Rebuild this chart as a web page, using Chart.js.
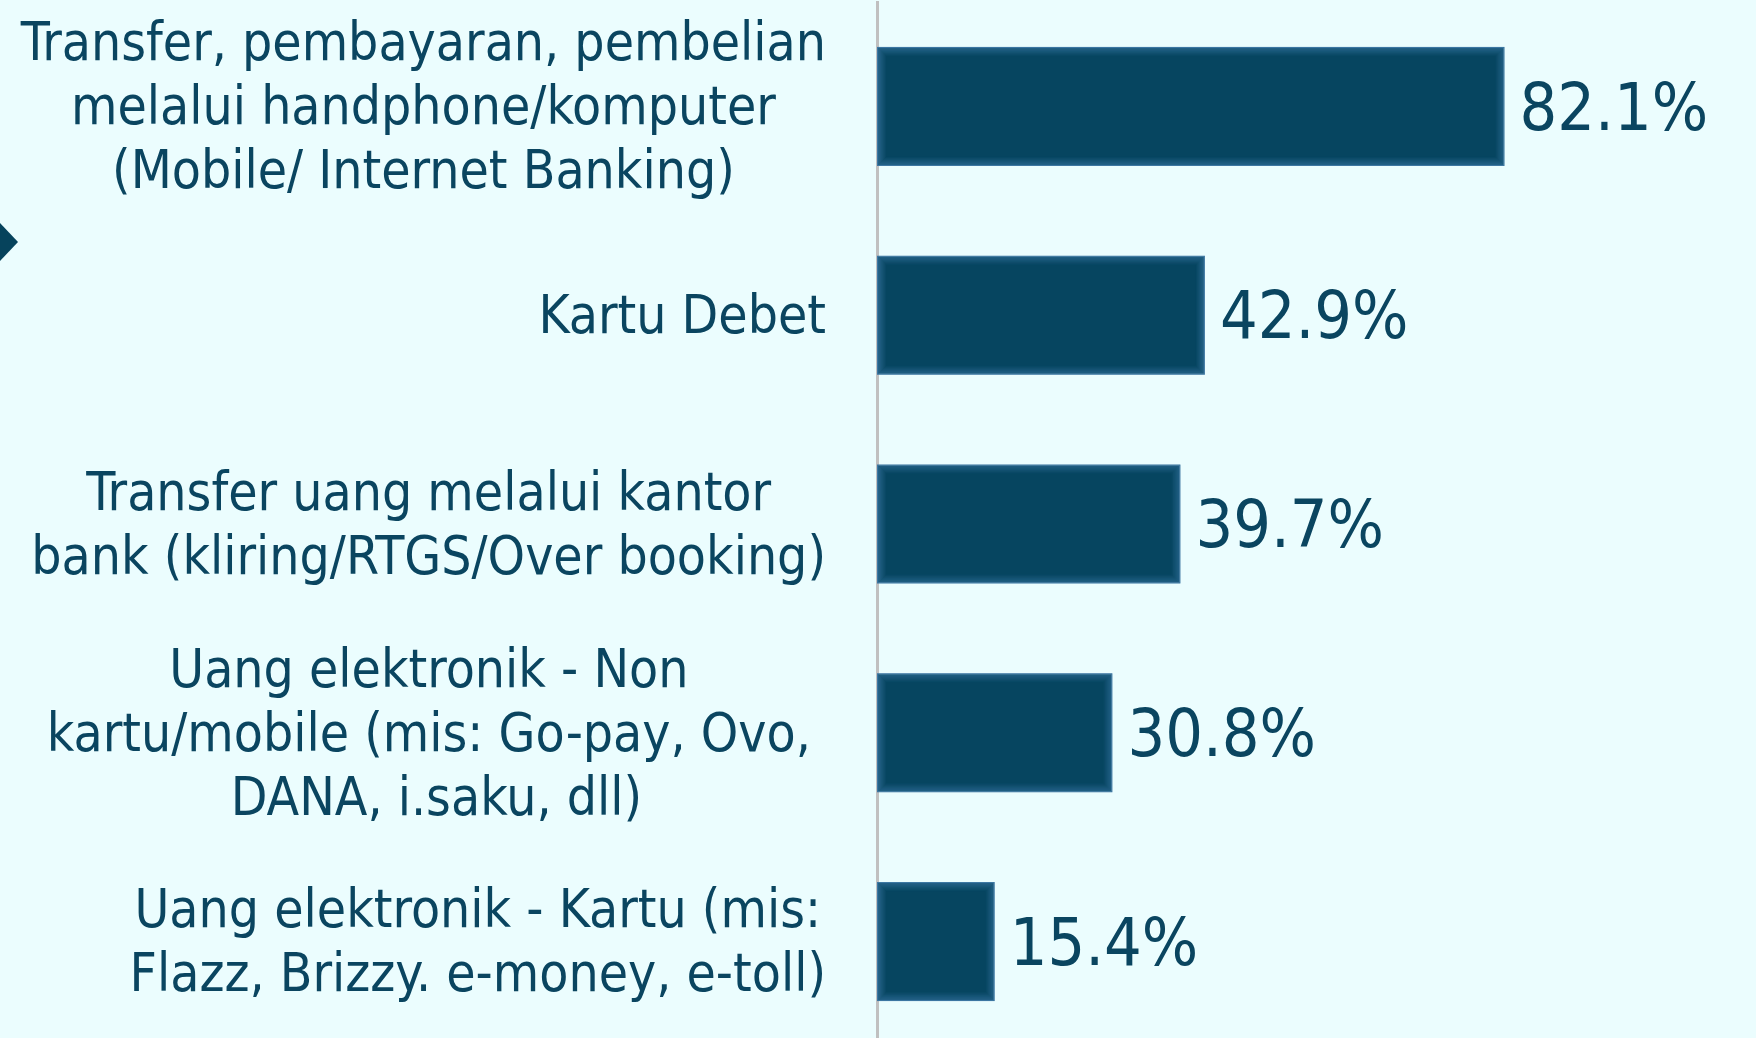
<!DOCTYPE html>
<html>
<head>
<meta charset="utf-8">
<title>Instrumen pembayaran</title>
<script src="https://cdn.jsdelivr.net/npm/chart.js@4.4.1/dist/chart.umd.min.js"></script>
<style>
    html, body { margin: 0; padding: 0; background: #ebfdfe; overflow: hidden; }
    #wrap { position: relative; width: 1756px; height: 1050px; }
</style>
</head>
<body>
<div id="wrap"><canvas id="paymentChart"></canvas></div>
<script>
// Kategori (satu baris per elemen) dan persentase responden
const categories = [
    ['Transfer, pembayaran, pembelian', 'melalui handphone/komputer', '(Mobile/ Internet Banking)'],
    ['Kartu Debet'],
    ['Transfer uang melalui kantor', 'bank (kliring/RTGS/Over booking)'],
    ['Uang elektronik - Non ', 'kartu/mobile (mis: Go-pay, Ovo, ', 'DANA, i.saku, dll)'],
    ['Uang elektronik - Kartu (mis:', 'Flazz, Brizzy. e-money, e-toll)']
];
const percentages = [82.1, 42.9, 39.7, 30.8, 15.4];

const TEXT_COLOR = '#0a4560';
const FONT_FAMILY = "'DejaVu Sans Condensed', 'Liberation Sans', sans-serif";
const LABEL_SIZE = 53;
const LINE_HEIGHT = 64;
const VALUE_SIZE = 66;
const AXIS_X = 877;

// Label kategori: tiap blok rata kanan, baris di dalamnya rata tengah
const categoryLabels = {
    id: 'categoryLabels',
    afterDraw(chart) {
        const ctx = chart.ctx;
        const yScale = chart.scales.y;
        const labelRight = chart.chartArea.left - 51;
        ctx.save();
        ctx.font = LABEL_SIZE + 'px ' + FONT_FAMILY;
        ctx.fillStyle = TEXT_COLOR;
        ctx.textAlign = 'center';
        ctx.textBaseline = 'middle';
        categories.forEach((lines, i) => {
            const y = yScale.getPixelForValue(i) + 4;
            const blockWidth = Math.max(...lines.map(l => ctx.measureText(l).width));
            const x = labelRight - blockWidth / 2;
            const top = y - (lines.length - 1) * LINE_HEIGHT / 2;
            lines.forEach((line, j) => ctx.fillText(line, x, top + j * LINE_HEIGHT));
        });
        ctx.restore();
    }
};

// Tepi batang yang sedikit lebih terang, lalu nilai persen di ujungnya
const barDecor = {
    id: 'barDecor',
    afterDatasetsDraw(chart) {
        const ctx = chart.ctx;
        const meta = chart.getDatasetMeta(0);
        ctx.save();
        meta.data.forEach((bar, i) => {
            const left = Math.min(bar.base, bar.x);
            const right = Math.max(bar.base, bar.x);
            const top = bar.y - bar.height / 2;
            const h = bar.height;
            for (let k = 0; k < 9; k++) {
                ctx.strokeStyle = 'rgba(55, 115, 160, ' + (0.7 * (1 - k / 9)).toFixed(3) + ')';
                ctx.lineWidth = 1;
                ctx.strokeRect(left + k + 0.5, top + k + 0.5, right - left - 2 * k - 1, h - 2 * k - 1);
            }
            ctx.font = VALUE_SIZE + 'px ' + FONT_FAMILY;
            ctx.fillStyle = TEXT_COLOR;
            ctx.textAlign = 'left';
            ctx.textBaseline = 'middle';
            ctx.fillText(percentages[i].toFixed(1) + '%', right + 15, bar.y + 6);
        });
        ctx.restore();
    }
};

// Penanda panah kecil di tepi kiri
const sideMarker = {
    id: 'sideMarker',
    beforeDraw(chart) {
        const ctx = chart.ctx;
        ctx.save();
        ctx.fillStyle = '#06435c';
        ctx.beginPath();
        ctx.moveTo(0, 223);
        ctx.lineTo(18, 242);
        ctx.lineTo(0, 261);
        ctx.closePath();
        ctx.fill();
        ctx.restore();
    }
};

const ctx = document.getElementById('paymentChart').getContext('2d');
new Chart(ctx, {
    type: 'bar',
    data: {
        labels: categories.map(c => c.join(' ')),
        datasets: [{
            data: percentages,
            backgroundColor: '#064560',
            borderColor: '#4a7fa8',
            borderWidth: 1,
            borderSkipped: false,
            categoryPercentage: 1,
            barPercentage: 0.57
        }]
    },
    options: {
        indexAxis: 'y',
        responsive: true,
        maintainAspectRatio: false,
        animation: false,
        layout: { padding: { top: 2, bottom: 4, left: 0, right: 0 } },
        plugins: {
            legend: { display: false },
            tooltip: { enabled: false }
        },
        scales: {
            x: {
                display: false,
                min: 0,
                max: 115
            },
            y: {
                ticks: { display: false },
                grid: { display: false, drawTicks: false },
                border: { display: true, color: '#c0c0c0', width: 3 },
                afterFit(scale) { scale.width = AXIS_X; }
            }
        }
    },
    plugins: [sideMarker, barDecor, categoryLabels]
});
</script>
</body>
</html>
